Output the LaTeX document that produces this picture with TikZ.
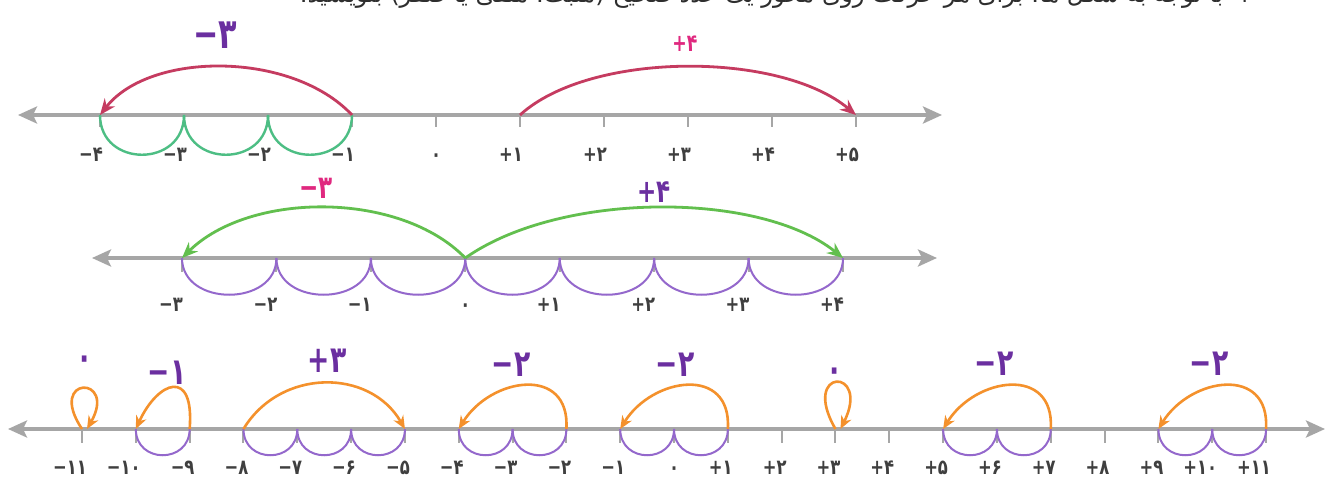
\documentclass[tikz,border=0pt]{standalone}
\usepackage{fontspec}
\usetikzlibrary{arrows.meta}
\TeXXeTstate=1
\newfontfamily\arabicfont[Script=Arabic]{DejaVu Sans}
\newfontfamily\fadig{DejaVu Sans}
\definecolor{axisgray}{HTML}{A6A6A6}
\definecolor{labgray}{HTML}{3F3F3F}
\definecolor{labpurple}{HTML}{6B2FA0}
\definecolor{labmagenta}{HTML}{E0287F}
\definecolor{arcpurple}{HTML}{9468CC}
\definecolor{redc}{HTML}{C53B60}
\definecolor{greenA}{HTML}{4DBE84}
\definecolor{greenB}{HTML}{62BF4E}
\definecolor{orangec}{HTML}{F4912C}
\definecolor{titlegray}{HTML}{2E2E2E}
\begin{document}
\begin{tikzpicture}[x=1pt,y=1pt,
  axisline/.style={draw=axisgray, line width=3.5pt,
    {Stealth[length=19pt,width=17pt,inset=4pt]}-{Stealth[length=19pt,width=17pt,inset=4pt]}},
  tickmark/.style={draw=axisgray, line width=2pt},
  ticklab/.style={font=\fadig\bfseries\fontsize{21}{24}\selectfont, text=labgray, inner sep=0pt, anchor=base east, xscale=0.78},
  zerolab/.style={ticklab, anchor=base},
  biglab/.style={font=\fadig\bfseries\fontsize{37}{42}\selectfont, inner sep=0pt, xscale=0.72},
  semiA/.style={draw=greenA, line width=2.4pt},
  semiP/.style={draw=arcpurple, line width=2pt},
  redjump/.style={draw=redc, line width=2.8pt, -{Stealth[length=16pt,width=13pt]}},
  greenjump/.style={draw=greenB, line width=2.8pt, -{Stealth[length=16pt,width=13pt]}},
  orangejump/.style={draw=orangec, line width=2.6pt, -{Stealth[length=13pt,width=11pt]}}
]
\useasboundingbox (0,0) rectangle (1327,477);
\clip (0,0) rectangle (1327,477);
\fill[white] (0,0) rectangle (1327,477);

% ---- title line (cut at the top, as in the reference) ----
\node[anchor=base east, inner sep=0pt, text=titlegray] (title) at (1253,474)
  {\resizebox{953pt}{!}{\arabicfont\fontsize{26}{30}\selectfont\beginR ۲- با توجه به شکل ها، برای هر حرکت روی محور یک عدد صحیح (مثبت، منفی یا صفر) بنویسید.\endR}};

% ================= line 1 =================
\coordinate (aL) at (18,362);
\coordinate (aR) at (942,362);
\foreach \k in {0,...,9} \coordinate (a\k) at (100+84*\k,362);
\draw[axisline] (aL) -- (aR);
\foreach \k in {0,...,9} \draw[tickmark] (a\k) -- ++(0,-12);
\foreach \k/\t in {0/−۴,1/−۳,2/−۲,3/−۱,5/+۱,6/+۲,7/+۳,8/+۴,9/+۵}
  \node[ticklab] (la\k) at ([xshift=3pt,yshift=-47pt]a\k) {\t};
\node[zerolab] (la4) at ([yshift=-47pt]a4) {۰};
\foreach \k/\n in {0/1,1/2,2/3}
  \draw[semiA] (a\k) .. controls +(0,-53) and +(0,-53) .. (a\n);
\draw[redjump] (a3) .. controls +(-60,64) and +(50,64) .. (a0);
\draw[redjump] (a5) .. controls +(70,64) and +(-76,64) .. (a9);
\node[biglab, text=labpurple, font=\fadig\bfseries\fontsize{42}{48}\selectfont] (j1) at (215,442) {−۳};
\node[biglab, text=labmagenta, font=\fadig\bfseries\fontsize{24}{28}\selectfont] (j2) at (685,433) {+۴};

% ================= line 2 =================
\coordinate (bL) at (92,219);
\coordinate (bR) at (937,219);
\foreach \k in {0,...,7} \coordinate (b\k) at (182+94.43*\k,219);
\draw[axisline] (bL) -- (bR);
\foreach \k in {0,...,7} \draw[tickmark] (b\k) -- ++(0,-14);
\foreach \k/\t in {0/−۳,1/−۲,2/−۱,4/+۱,5/+۲,6/+۳,7/+۴}
  \node[ticklab] (lb\k) at ([xshift=1pt,yshift=-53pt]b\k) {\t};
\node[zerolab] (lb3) at ([yshift=-53pt]b3) {۰};
\foreach \k/\n in {0/1,1/2,2/3,3/4,4/5,5/6,6/7}
  \draw[semiP] (b\k) .. controls +(0,-49) and +(0,-49) .. (b\n);
\draw[greenjump] (b3) .. controls +(-65,67) and +(68,67) .. (b0);
\draw[greenjump] (b3) .. controls +(95,67) and +(-83,67) .. (b7);
\node[biglab, text=labmagenta, font=\fadig\bfseries\fontsize{32}{38}\selectfont] (j3) at (316,289) {−۳};
\node[biglab, text=labpurple, font=\fadig\bfseries\fontsize{32}{38}\selectfont] (j4) at (654,285) {+۴};

% ================= line 3 =================
\coordinate (cL) at (8,48);
\coordinate (cR) at (1325,48);
\foreach \k in {0,...,22} \coordinate (c\k) at (82+53.82*\k,48);
\draw[axisline] (cL) -- (cR);
\foreach \k in {0,...,22} \draw[tickmark] (c\k) -- ++(0,-14);
\foreach \k/\t in {0/−۱۱,1/−۱۰,2/−۹,3/−۸,4/−۷,5/−۶,6/−۵,7/−۴,8/−۳,9/−۲,10/−۱,
                   12/+۱,13/+۲,14/+۳,15/+۴,16/+۵,17/+۶,18/+۷,19/+۸,20/+۹,21/+۱۰,22/+۱۱}
  \node[ticklab] (lc\k) at ([xshift=5pt,yshift=-45pt]c\k) {\t};
\node[zerolab] (lc11) at ([yshift=-45pt]c11) {۰};
\foreach \k/\n in {1/2,3/4,4/5,5/6,7/8,8/9,10/11,11/12,16/17,17/18,20/21,21/22}
  \draw[semiP] (c\k) .. controls +(0,-35) and +(0,-35) .. (c\n);
% jumps
\coordinate (c0e) at ([xshift=5pt]c0);
\coordinate (c14e) at ([xshift=5pt]c14);
\draw[orangejump] (c0) .. controls +(-36,54) and +(31,54) .. (c0e);
\draw[orangejump] (c2) .. controls +(5,62) and +(22,48) .. (c1);
\draw[orangejump] (c3) .. controls +(37,61) and +(-35,61) .. (c6);
\draw[orangejump] (c9) .. controls +(4,64) and +(32,52) .. (c7);
\draw[orangejump] (c12) .. controls +(4,64) and +(32,52) .. (c10);
\draw[orangejump] (c14) .. controls +(-36,62) and +(31,62) .. (c14e);
\draw[orangejump] (c18) .. controls +(4,64) and +(32,52) .. (c16);
\draw[orangejump] (c22) .. controls +(4,64) and +(32,52) .. (c20);
\node[biglab, text=labpurple] (k1) at (85,114) {۰};
\node[biglab, text=labpurple] (k2) at (167,104) {−۱};
\node[biglab, text=labpurple] (k3) at (327,116) {+۳};
\node[biglab, text=labpurple] (k4) at (511,112) {−۲};
\node[biglab, text=labpurple] (k5) at (675,112) {−۲};
\node[biglab, text=labpurple] (k6) at (835,102) {۰};
\node[biglab, text=labpurple] (k7) at (994,113) {−۲};
\node[biglab, text=labpurple] (k8) at (1209,113) {−۲};
\end{tikzpicture}
\end{document}
